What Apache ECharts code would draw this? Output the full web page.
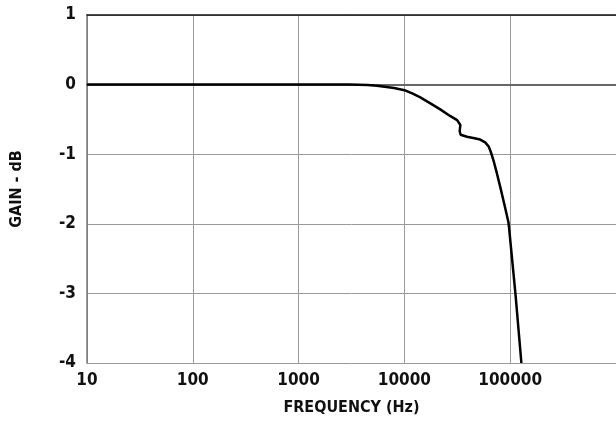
<!DOCTYPE html>
<html>
<head>
<meta charset="utf-8">
<script src="https://cdn.jsdelivr.net/npm/echarts@6/dist/echarts.min.js"></script>
<style>
html,body{margin:0;padding:0;background:#fff;}
#c{width:616px;height:425px;}
</style>
</head>
<body>
<div id="c"></div>
<script>
var freqHz = [10, 100, 1000, 3000, 4500, 5500, 6500, 8000, 10000, 12000, 14000, 17600, 22000, 27000, 31500, 33800, 33300, 34000, 39000, 46000, 52000, 58000, 62600, 66000, 69800, 75000, 80800, 88000, 96000, 97500, 112000, 127600];
var gainDb = [0, 0, 0, 0, -0.005, -0.015, -0.03, -0.05, -0.08, -0.13, -0.18, -0.27, -0.36, -0.45, -0.51, -0.58, -0.67, -0.72, -0.75, -0.77, -0.79, -0.83, -0.89, -0.98, -1.1, -1.28, -1.48, -1.72, -1.97, -2.05, -3.0, -4.0];
var yTicks = [-4, -3, -2, -1, 0, 1];
var xTitle = 'FREQUENCY (Hz)';
var yTitle = 'GAIN - dB';

var FONT = '"Liberation Sans Narrow", "DejaVu Sans Condensed", "Noto Sans", sans-serif';
var data = freqHz.map(function (f, i) { return [f, gainDb[i]]; });

var chart = echarts.init(document.getElementById('c'), null, {renderer: 'canvas'});
chart.setOption({
  animation: false,
  backgroundColor: '#fff',
  grid: {left: 87, right: 0, top: 15, bottom: 62, containLabel: false},
  xAxis: [{
    type: 'log',
    logBase: 10,
    min: 10,
    max: 1000000,
    name: xTitle,
    nameLocation: 'middle',
    nameGap: 37,
    nameTextStyle: {fontFamily: FONT, fontWeight: 'bold', fontSize: 16, color: '#111'},
    axisLine: {show: true, lineStyle: {color: '#666', width: 2}},
    axisTick: {show: false},
    axisLabel: {fontFamily: FONT, fontWeight: 'bold', fontSize: 17, color: '#111', margin: 9, showMaxLabel: false,
      formatter: function (v) { return String(Math.round(v)); }},
    splitLine: {show: true, lineStyle: {color: '#9a9a9a', width: 1}},
    minorTick: {show: false},
    minorSplitLine: {show: false}
  }, {
    type: 'log',
    logBase: 10,
    min: 10,
    max: 1000000,
    position: 'top',
    axisLine: {show: true, lineStyle: {color: '#111', width: 1.5}},
    axisTick: {show: false},
    axisLabel: {show: false},
    splitLine: {show: false}
  }],
  yAxis: {
    type: 'value',
    min: yTicks[0],
    max: yTicks[yTicks.length - 1],
    interval: 1,
    name: yTitle,
    nameLocation: 'middle',
    nameGap: 62,
    nameRotate: 90,
    nameTextStyle: {fontFamily: FONT, fontWeight: 'bold', fontSize: 16, color: '#111'},
    axisLine: {show: true, lineStyle: {color: '#777', width: 1.5}},
    axisTick: {show: false},
    axisLabel: {fontFamily: FONT, fontWeight: 'bold', fontSize: 17, color: '#111', margin: 11},
    splitLine: {show: true, lineStyle: {color: '#9a9a9a', width: 1}}
  },
  series: [{
    type: 'line',
    data: data,
    showSymbol: false,
    smooth: false,
    lineStyle: {color: '#000', width: 2.5},
    z: 5
  }]
});
</script>
</body>
</html>
